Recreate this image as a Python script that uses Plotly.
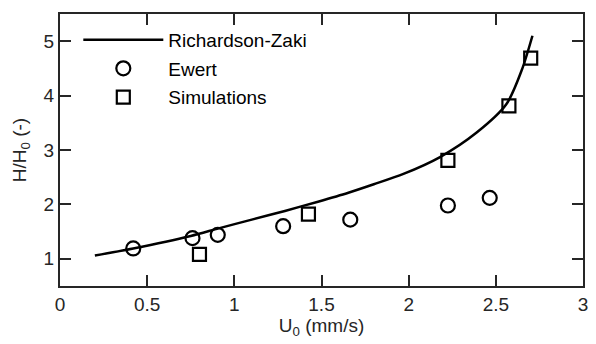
import plotly.graph_objects as go

# Richardson-Zaki curve
rz_x = [0.20, 0.42, 0.75, 0.91, 1.10, 1.29, 1.48, 1.65, 1.80, 1.97, 2.18, 2.39, 2.56, 2.65, 2.71]
rz_y = [1.06, 1.19, 1.42, 1.56, 1.72, 1.88, 2.05, 2.21, 2.37, 2.56, 2.87, 3.32, 3.84, 4.48, 5.10]

# Ewert data
ew_x = [0.42, 0.76, 0.905, 1.28, 1.665, 2.225, 2.465]
ew_y = [1.19, 1.38, 1.44, 1.60, 1.72, 1.98, 2.12]

# Simulations
sim_x = [0.80, 1.425, 2.225, 2.575, 2.70]
sim_y = [1.08, 1.82, 2.81, 3.81, 4.69]

x_ticks = [0, 0.5, 1, 1.5, 2, 2.5, 3]
x_tick_labels = ["0", "0.5", "1", "1.5", "2", "2.5", "3"]
y_ticks = [1, 2, 3, 4, 5]
y_tick_labels = ["1", "2", "3", "4", "5"]

ink = "#000000"
axc = "#262626"
font = "Liberation Sans, Arial, sans-serif"
fs = 19

fig = go.Figure()
fig.add_trace(go.Scatter(x=rz_x, y=rz_y, mode="lines", name="Richardson-Zaki", legendgroup="a",
                         line=dict(color=ink, width=2.5, shape="spline", smoothing=0.8)))
fig.add_trace(go.Scatter(x=ew_x, y=ew_y, mode="markers", name="Ewert", legendgroup="b",
                         marker=dict(symbol="circle-open", size=14, color=ink, line=dict(width=2.2, color=ink))))
fig.add_trace(go.Scatter(x=sim_x, y=sim_y, mode="markers", name="Simulations", legendgroup="c",
                         marker=dict(symbol="square-open", size=13, color=ink, line=dict(width=2.2, color=ink))))

axis_common = dict(showline=True, linecolor=axc, linewidth=2, mirror="ticks",
                   ticks="inside", ticklen=11, tickwidth=2, tickcolor=axc,
                   showgrid=False, zeroline=False,
                   tickfont=dict(family=font, size=fs, color=axc))

fig.update_xaxes(range=[0, 3], tickvals=x_ticks, ticktext=x_tick_labels,
                 title=dict(text="U<sub>0</sub> (mm/s)", font=dict(family=font, size=fs, color=axc), standoff=4),
                 **axis_common)
fig.update_yaxes(range=[0.5, 5.5], tickvals=y_ticks, ticktext=y_tick_labels,
                 title=dict(text="H/H<sub>0</sub> (-)", font=dict(family=font, size=fs, color=axc), standoff=12),
                 **axis_common)

fig.update_layout(
    width=596, height=344,
    margin=dict(l=60, r=8, t=14, b=58),
    paper_bgcolor="white", plot_bgcolor="white",
    showlegend=True,
    legend=dict(x=0.035, y=0.975, xanchor="left", yanchor="top",
                bgcolor="rgba(0,0,0,0)", borderwidth=0,
                font=dict(family=font, size=fs, color=ink),
                itemwidth=80, tracegroupgap=1),
)

fig.write_html("out.html")
